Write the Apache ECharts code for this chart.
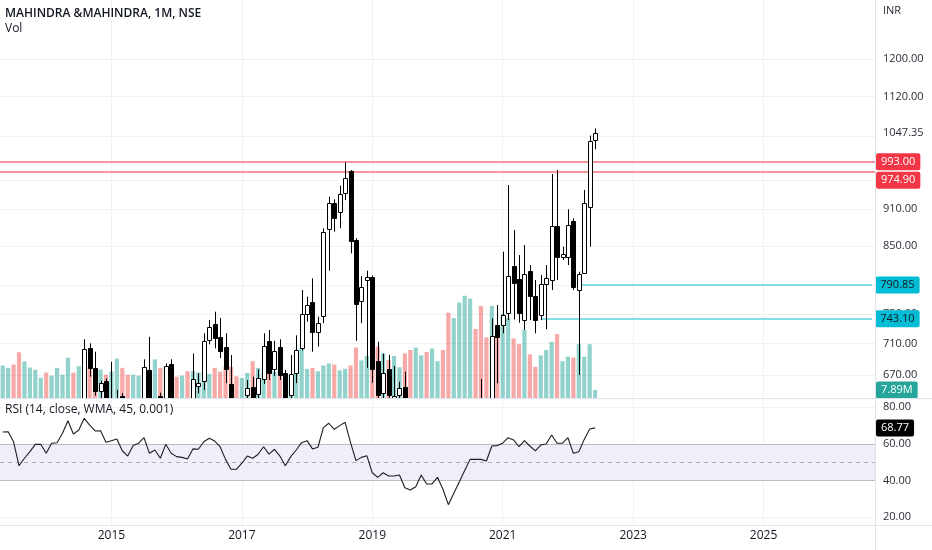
<!DOCTYPE html>
<html><head><meta charset="utf-8">
<script src="https://cdn.jsdelivr.net/npm/echarts@6/dist/echarts.min.js"></script>
<style>html,body{margin:0;padding:0;background:#fff}#c{width:932px;height:550px}</style>
</head><body><div id="c"></div>
<script>
// ---- data (monthly, May 2013 .. Jun 2022) ----
const firstMonth = [2013, 5];
const lastAxisMonth = [2026, 9];
const opens = [
  480, 495, 500, 470, 430, 455, 480, 500, 505, 470, 490, 510, 515, 575, 560, 612, 703.8, 678.3, 650.9, 662.6,
  636, 630, 645, 605, 585, 600, 615, 676.2, 625, 644, 630, 683.7, 635, 600, 625, 615, 656.5, 663, 714.8, 735.7,
  718.3, 704.9, 658.6, 625, 615, 645.7, 655.9, 646.9, 665, 713.4, 677, 706, 671.9, 645.7, 672.1, 703.6, 749.4, 767, 725.7, 747.5,
  877, 920.6, 904.4, 936.7, 976.1, 859.4, 768.1, 798.3, 803.2, 687.9, 648.5, 677, 638, 645.7, 655.7, 600, 560, 580, 610, 560,
  565, 575, 500, 340, 430, 450, 520, 610, 638, 622, 615, 734.8, 734.8, 750.7, 819.2, 800.2, 741.5, 811.6, 775.5, 748.5,
  792.5, 798.3, 881.9, 833.4, 833.4, 890.1, 783.7, 808.2, 912.8, 1033.5
];
const closes = [
  495, 500, 470, 430, 455, 480, 500, 505, 470, 490, 510, 515, 575, 560, 610, 702.5, 678.3, 650.9, 659.9, 635,
  640, 638, 605, 585, 600, 615, 679.9, 630, 635, 630, 681.3, 635, 600, 610, 615, 664.7, 659.9, 713.4, 731.7, 717,
  700.7, 677, 625, 615, 635, 653.8, 640, 666.3, 706.8, 672.1, 700.3, 670.1, 640, 671.2, 701.7, 749.8, 761.9, 725.7, 737.9, 872.7,
  920.6, 895.5, 935, 963, 858.4, 763.8, 788.5, 803.2, 677, 645.7, 672.1, 645.7, 645, 654.5, 600, 560, 580, 610, 560, 565,
  575, 500, 340, 430, 450, 520, 610, 600, 622, 610, 720, 719, 748.5, 804.2, 793.4, 750.7, 807.2, 775.5, 741.5, 792.5,
  800.8, 881.9, 833.4, 837, 883.5, 788.5, 806.7, 919.7, 1032.1, 1047.35
];
const lows = [
  470, 470, 455, 410, 420, 450, 470, 490, 460, 460, 480, 490, 505, 545, 555, 605, 668, 645, 641, 625,
  615, 610, 595, 575, 575, 590, 610, 610, 600, 620, 620, 625, 585, 560, 600, 610, 647.8, 651.7, 709, 703.8,
  691.3, 660, 600, 600, 610, 630, 630, 640, 659, 664, 669, 664, 630, 640, 660, 701, 739.2, 699.4, 706, 737.1,
  812.1, 872.7, 878.2, 925, 838.6, 713.8, 737.1, 679, 660.6, 630, 640, 635, 615, 635, 580, 540, 520, 560, 550, 540,
  550, 490, 250, 330, 400, 445, 515, 580, 600, 590, 605, 659.9, 723.6, 741.5, 742.4, 737.9, 728, 741.5, 723.6, 741.5,
  729, 783.7, 798.3, 828.3, 820.7, 783.7, 670.1, 807.2, 848.9, 1015.9
];
const highs = [
  505, 510, 515, 480, 470, 490, 510, 520, 515, 500, 520, 525, 590, 600, 625, 715.6, 710.3, 699.4, 663, 665.9,
  686.6, 652, 648, 625, 615, 625, 689.7, 719, 640, 648.5, 684.6, 689.7, 640, 625, 638, 697, 672.1, 723.6, 741.5, 753,
  744.3, 723.6, 695.2, 638, 640, 663.9, 667.9, 677, 723.6, 728, 713.7, 715.6, 676.2, 695.2, 720.9, 783.7, 774.1, 800.8, 746.1, 878.2,
  930.8, 926.4, 950, 991.8, 977.9, 862.5, 804.2, 812.1, 805, 712.4, 697, 695.2, 681.3, 661.8, 674, 610, 600, 625, 615, 580,
  590, 585, 510, 470, 470, 560, 630, 635, 665, 638, 743.8, 762.4, 841.1, 951.1, 875.4, 835.9, 851.5, 820.7, 798.3, 805.7,
  820.7, 970.7, 977.9, 848.9, 909.5, 894.5, 810.6, 942.5, 1042, 1056
];
// volume in millions
const volumes = [
  32, 29.7, 33, 45, 36, 30, 27.7, 20, 25, 22, 29.7, 23, 39.7, 25, 31.3, 28, 30, 28, 28, 23,
  26, 38.7, 29.7, 23, 23, 22, 22, 28, 38, 29.7, 31, 28, 21, 22, 26.3, 26.3, 25, 25, 23.7, 29.7,
  26, 31, 30.7, 21.3, 19.7, 24.7, 36.3, 29.7, 28, 30, 26, 27, 24, 22, 29.7, 49.7, 28.7, 29.7, 26.3, 32,
  34, 33, 27.3, 28.7, 32, 49.7, 37, 41.3, 40, 50.7, 44, 37.3, 41.3, 30.3, 44, 47.3, 49.7, 42, 45.3, 48.7,
  36.3, 47.3, 84, 78.7, 94, 100.7, 98, 68, 90.7, 59.7, 90.7, 68, 83, 78.7, 58.7, 53, 67.3, 43, 30.7, 42,
  47.3, 55.3, 63, 36.3, 40.7, 39.7, 53, 40.7, 53, 7.89
];
const rsi = [
  66.5, 66.7, 61.2, 48.1, 52.2, 55.8, 59.8, 59.8, 54.9, 60.4, 60.7, 65.8, 72.7, 65.4, 67.6, 74, 70.3, 67.1, 67.2, 60.9,
  61.8, 62.7, 56.3, 53.4, 59.1, 60.4, 63.4, 54.9, 56.7, 52.2, 59.8, 54.9, 53.1, 52.7, 51.8, 57.3, 57.1, 61.2, 63.1, 61.6,
  58.5, 51.6, 46.2, 46.2, 49.5, 53.4, 52.2, 54.4, 58.5, 54.5, 57.1, 53.4, 48.1, 53.1, 56.7, 60.7, 61.8, 57.3, 58.2, 68.9,
  71.3, 68, 70, 71.8, 60.7, 50.9, 52.7, 53.6, 44.3, 41.8, 44.3, 42.5, 42.5, 43.1, 36.1, 34.9, 36.7, 43.1, 38.2, 38.2,
  41.8, 35.3, 26.9, 33.1, 39.3, 45.5, 51.6, 51.6, 51.6, 50.7, 58.9, 59.1, 60.4, 63.4, 62.2, 58.5, 61.8, 58.9, 56.2, 59.4,
  60, 64.9, 60.4, 60.4, 63.4, 54.9, 55.8, 62.5, 68.2, 68.77
];
// axis ticks / levels
const yearTickMonths = ['2015-01', '2017-01', '2019-01', '2021-01', '2023-01', '2025-01'];
const priceGridTicks = [1200, 1120, 1040, 960, 910, 850, 790, 750, 710, 670];
const priceLabelTicks = [1200, 1120, 910, 850, 750, 710, 670];
const rsiGridTicks = [80, 20];
const rsiBand = [40, 60];
const rsiMid = 50;
const redLevels = [993.00, 974.90];
const cyanRays = [{ from: '2022-03', value: 790.85 }, { from: '2021-08', value: 743.10 }];
const priceRange = [642.2, 1337.9];
const rsiRange = [15.8, 84.53];
const volumeAxisMax = 392;

// ---- build ----
const months = [];
for (let y = firstMonth[0], m = firstMonth[1]; y < lastAxisMonth[0] || (y === lastAxisMonth[0] && m <= lastAxisMonth[1]);) {
  months.push(y + '-' + String(m).padStart(2, '0'));
  m++; if (m > 12) { m = 1; y++; }
}
const lastAxisCat = months[months.length - 1];
const candleData = opens.map((o, i) => [i, o, closes[i], lows[i], highs[i]]);
const UPV = 'rgba(38,166,154,0.5)', DNV = 'rgba(239,83,80,0.5)';
const volumeData = volumes.map((v, i) => ({ value: v, itemStyle: { color: closes[i] >= opens[i] ? UPV : DNV } }));
const lastClose = closes[closes.length - 1];
const lastVol = volumes[volumes.length - 1];
const lastRsi = rsi[rsi.length - 1];

const FONT = '"Open Sans", "Noto Sans", sans-serif';
const GRIDC = '#eff1f5';
const CLEAR = { color: 'rgba(0,0,0,0)', width: 1 };
const tickLabel = (txt) => ({ show: true, position: 'end', distance: 8, formatter: txt, color: '#2a2e39', fontSize: 11, fontFamily: FONT, opacity: 1 });
const boxLabel = (txt, bg, fg, va) => ({ show: true, position: 'end', distance: 1, formatter: txt, color: fg, backgroundColor: bg,
  padding: [2, 5, 2, 5], borderRadius: 2, fontSize: 11, lineHeight: 13, fontFamily: FONT, verticalAlign: va || 'middle', opacity: 1 });
const noLabel = { show: false };

const yearLines = yearTickMonths.map(c => ({ xAxis: c, lineStyle: { color: GRIDC, width: 1, type: 'solid' }, label: noLabel }));

const priceLines = [];
priceGridTicks.forEach(v => priceLines.push({ yAxis: v, lineStyle: { color: GRIDC, width: 1, type: 'solid' },
  label: priceLabelTicks.includes(v) ? tickLabel(v.toFixed(2)) : noLabel }));
priceLines.push({ yAxis: lastClose, lineStyle: CLEAR, label: tickLabel(lastClose.toFixed(2)) });
cyanRays.forEach(r => priceLines.push([
  { xAxis: r.from, yAxis: r.value, lineStyle: { color: 'rgba(0,188,212,0.65)', width: 1.5, type: 'solid' },
    label: Object.assign(boxLabel(r.value.toFixed(2), '#00bcd4', '#131722'), { distance: 3 }) },
  { xAxis: lastAxisCat, yAxis: r.value }
]));
redLevels.forEach((v, i) => priceLines.push({ yAxis: v, lineStyle: { color: 'rgba(242,54,69,0.7)', width: 1.5, type: 'solid' },
  label: boxLabel(v.toFixed(2), '#f23645', '#ffffff', i === 0 ? 'middle' : 'top') }));

const rsiLines = yearLines.slice();
rsiGridTicks.forEach(v => rsiLines.push({ yAxis: v, lineStyle: { color: GRIDC, width: 1, type: 'solid' }, label: tickLabel(v.toFixed(2)) }));
rsiBand.forEach(v => rsiLines.push({ yAxis: v, lineStyle: { color: 'rgba(120,123,134,0.45)', width: 1, type: 'solid' }, label: tickLabel(v.toFixed(2)) }));
rsiLines.push({ yAxis: rsiMid, lineStyle: { color: 'rgba(120,123,134,0.55)', width: 1, type: [4, 4] }, label: noLabel });
rsiLines.push({ yAxis: lastRsi, lineStyle: CLEAR, label: boxLabel(lastRsi.toFixed(2), '#000000', '#ffffff') });

// hollow (up) / filled (down) candle drawn through the axes' own scales
function renderCandle(params, api) {
  const i = api.value(0);
  const o = api.value(1), c = api.value(2), l = api.value(3), h = api.value(4);
  const pO = api.coord([i, o]), pC = api.coord([i, c]);
  const pL = api.coord([i, l]), pH = api.coord([i, h]);
  const cx = Math.round(pO[0]) + 0.5;
  const top = Math.round(Math.min(pO[1], pC[1])) + 0.5;
  const bot = Math.round(Math.max(pO[1], pC[1])) + 0.5;
  const up = c >= o;
  return {
    type: 'group',
    children: [
      { type: 'line', shape: { x1: cx, y1: pH[1], x2: cx, y2: top }, style: { stroke: '#000', lineWidth: 1 } },
      { type: 'line', shape: { x1: cx, y1: bot, x2: cx, y2: pL[1] }, style: { stroke: '#000', lineWidth: 1 } },
      { type: 'rect', shape: { x: cx - 2, y: top, width: 4, height: Math.max(bot - top, 1) },
        style: { fill: up ? '#ffffff' : '#000000', stroke: '#000000', lineWidth: 1 } }
    ]
  };
}

const option = {
  animation: false,
  backgroundColor: '#ffffff',
  grid: [
    { left: -4.9, top: 0, width: 879.9, height: 398 },
    { left: -4.9, top: 399, width: 879.9, height: 126 }
  ],
  xAxis: [
    { type: 'category', data: months, gridIndex: 0, boundaryGap: true, show: false },
    { type: 'category', data: months, gridIndex: 1, boundaryGap: true,
      axisLine: { show: false }, axisTick: { show: false }, splitLine: { show: false },
      axisLabel: { interval: (i, v) => yearTickMonths.includes(v), formatter: v => v.slice(0, 4),
        color: '#131722', fontSize: 12, fontFamily: FONT, margin: 5 } }
  ],
  yAxis: [
    { type: 'log', logBase: 10, gridIndex: 0, min: priceRange[0], max: priceRange[1], show: false },
    { type: 'value', gridIndex: 0, min: 0, max: volumeAxisMax, show: false },
    { type: 'value', gridIndex: 1, min: rsiRange[0], max: rsiRange[1], show: false }
  ],
  series: [
    { type: 'bar', name: 'Vol', xAxisIndex: 0, yAxisIndex: 1, data: volumeData, barWidth: 4.2, z: 2, silent: true,
      markLine: { silent: true, symbol: ['none', 'none'], z: 1, animation: false,
        data: yearLines.concat([{ yAxis: lastVol, lineStyle: CLEAR, label: boxLabel(lastVol.toFixed(2) + 'M', '#26a69a', '#ffffff') }]) } },
    { type: 'custom', name: 'M&M', xAxisIndex: 0, yAxisIndex: 0, data: candleData, renderItem: renderCandle,
      encode: { x: 0, y: [1, 2, 3, 4] }, clip: true, z: 3, silent: true,
      markLine: { silent: true, symbol: ['none', 'none'], z: 1, animation: false, data: priceLines } },
    { type: 'line', name: 'RSI', xAxisIndex: 1, yAxisIndex: 2, data: rsi, showSymbol: false, silent: true, z: 3,
      lineStyle: { color: '#1e1e1e', width: 1.1 },
      markArea: { silent: true, itemStyle: { color: 'rgba(126,87,194,0.1)' }, data: [[{ yAxis: rsiBand[0] }, { yAxis: rsiBand[1] }]] },
      markLine: { silent: true, symbol: ['none', 'none'], z: 1, animation: false, data: rsiLines } }
  ],
  graphic: [
    { type: 'line', shape: { x1: 0, y1: 398.5, x2: 932, y2: 398.5 }, style: { stroke: '#e0e3eb', lineWidth: 1 }, z: 10 },
    { type: 'line', shape: { x1: 0, y1: 525.5, x2: 932, y2: 525.5 }, style: { stroke: '#e0e3eb', lineWidth: 1 }, z: 10 },
    { type: 'line', shape: { x1: 875.5, y1: 0, x2: 875.5, y2: 550 }, style: { stroke: '#e0e3eb', lineWidth: 1 }, z: 10 },
    { type: 'text', left: 5, top: 8, style: { text: 'MAHINDRA &MAHINDRA, 1M, NSE', fill: '#131722', font: '600 12px "Open Sans"' }, z: 20 },
    { type: 'text', left: 5, top: 23, style: { text: 'Vol', fill: '#131722', font: '12px "Open Sans"' }, z: 20 },
    { type: 'text', left: 5, top: 404, style: { text: 'RSI (14, close, WMA, 45, 0.001)', fill: '#131722', font: '12px "Open Sans"' }, z: 20 },
    { type: 'text', left: 883, top: 5, style: { text: 'INR', fill: '#2a2e39', font: '11px "Open Sans"' }, z: 20 }
  ]
};
const chart = echarts.init(document.getElementById('c'), null, { renderer: 'canvas' });
chart.setOption(option);
</script>
</body></html>
